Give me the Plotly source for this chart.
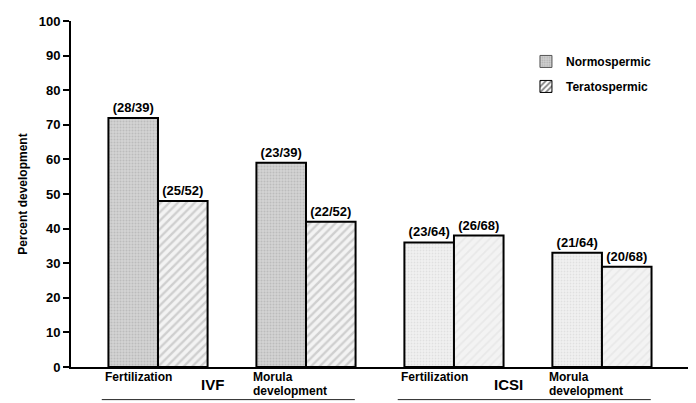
import plotly.graph_objects as go

# ---- data ----
categories = ["IVF Fertilization", "IVF Morula development", "ICSI Fertilization", "ICSI Morula development"]
cat_labels = [["Fertilization"], ["Morula", "development"], ["Fertilization"], ["Morula", "development"]]
groups = ["IVF", "ICSI"]
normo_pct = [72, 59, 36, 33]
terato_pct = [48, 42, 38, 29]
normo_txt = ["(28/39)", "(23/39)", "(23/64)", "(21/64)"]
terato_txt = ["(25/52)", "(22/52)", "(26/68)", "(20/68)"]
y_ticks = list(range(0, 101, 10))

x = list(range(len(categories)))
FONT = "Arial, Liberation Sans, sans-serif"
BW = 0.335
PLOT_H = 350  # plot area height in px (for paper-coordinate offsets)

fig = go.Figure()

fig.add_trace(go.Bar(
    x=x, y=normo_pct, name="Normospermic", showlegend=False,
    width=BW, offset=-BW,
    text=normo_txt, textposition="outside", cliponaxis=False, constraintext="none",
    textfont=dict(family=FONT, size=13, color="black", weight="bold"),
    marker=dict(
        line=dict(color="black", width=2),
        pattern=dict(
            shape=[".", ".", ".", "."],
            bgcolor=["#d3d3d3", "#d3d3d3", "#f1f1f1", "#f1f1f1"],
            fgcolor=["#a6a6a6", "#a6a6a6", "#cfcfcf", "#cfcfcf"],
            size=[3, 3, 3, 3], solidity=[0.35, 0.35, 0.3, 0.3],
        ),
    ),
))
fig.add_trace(go.Bar(
    x=x, y=terato_pct, name="Teratospermic", showlegend=False,
    width=BW, offset=0,
    text=terato_txt, textposition="outside", cliponaxis=False, constraintext="none",
    textfont=dict(family=FONT, size=13, color="black", weight="bold"),
    marker=dict(
        line=dict(color="black", width=2),
        pattern=dict(
            shape=["/", "/", "/", "/"],
            bgcolor=["#f3f3f3", "#f3f3f3", "#f3f3f3", "#f3f3f3"],
            fgcolor=["#ababab", "#ababab", "#dddddd", "#dddddd"],
            size=[6, 6, 6, 6], solidity=[0.4, 0.4, 0.3, 0.3],
        ),
    ),
))

# legend-only entries
fig.add_trace(go.Bar(
    x=[None], y=[None], name="Normospermic", legendgroup="n",
    marker=dict(line=dict(color="#555555", width=1),
                pattern=dict(shape=".", bgcolor="#d0d0d0", fgcolor="#8c8c8c", size=3, solidity=0.35)),
))
fig.add_trace(go.Bar(
    x=[None], y=[None], name="Teratospermic", legendgroup="t",
    marker=dict(line=dict(color="black", width=1),
                pattern=dict(shape="/", bgcolor="white", fgcolor="black", size=5, solidity=0.45)),
))

annotations = []
for i, lines in enumerate(cat_labels):
    for k, line in enumerate(lines):
        annotations.append(dict(
            x=i - 0.37, y=-(10 + 14 * k) / PLOT_H, xref="x", yref="paper", text=line, showarrow=False,
            xanchor="left", yanchor="middle", align="left",
            font=dict(family=FONT, size=12, color="black", weight="bold"),
        ))
for g, name in enumerate(groups):
    annotations.append(dict(
        x=2 * g + 0.37, y=-18 / PLOT_H, xref="x", yref="paper", text=name, showarrow=False,
        xanchor="center", yanchor="middle",
        font=dict(family=FONT, size=15, color="black", weight="bold"),
    ))

shapes = []
for g in range(len(groups)):
    shapes.append(dict(
        type="line", xref="x", yref="paper",
        x0=2 * g - 0.38, x1=2 * g + 1.33, y0=-33 / PLOT_H, y1=-33 / PLOT_H,
        line=dict(color="#222222", width=1),
    ))

# page body has an 8px default margin: size figure so plot area lands at the reference position
fig.update_layout(
    width=688, height=395,
    margin=dict(l=63, r=6, t=9, b=36),
    paper_bgcolor="white", plot_bgcolor="white",
    barmode="overlay",
    font=dict(family=FONT, color="black"),
    showlegend=True,
    legend=dict(
        x=0.735, y=0.925, xanchor="left", yanchor="top",
        font=dict(family=FONT, size=12, color="black", weight="bold"),
        tracegroupgap=6, bgcolor="rgba(0,0,0,0)",
    ),
    annotations=annotations, shapes=shapes,
)
fig.update_xaxes(
    range=[-0.588, 3.595], showticklabels=False, ticks="",
    showline=True, linecolor="black", linewidth=2, showgrid=False, zeroline=False,
)
fig.update_yaxes(
    range=[0, 100], tickvals=y_ticks, ticks="outside", ticklen=6, tickwidth=2, tickcolor="black",
    showline=True, linecolor="black", linewidth=2, showgrid=False, zeroline=False,
    tickfont=dict(family=FONT, size=13, color="black", weight="bold"),
    title=dict(text="Percent development", standoff=8,
               font=dict(family=FONT, size=12, color="black", weight="bold")),
)

fig.write_html("out.html")
